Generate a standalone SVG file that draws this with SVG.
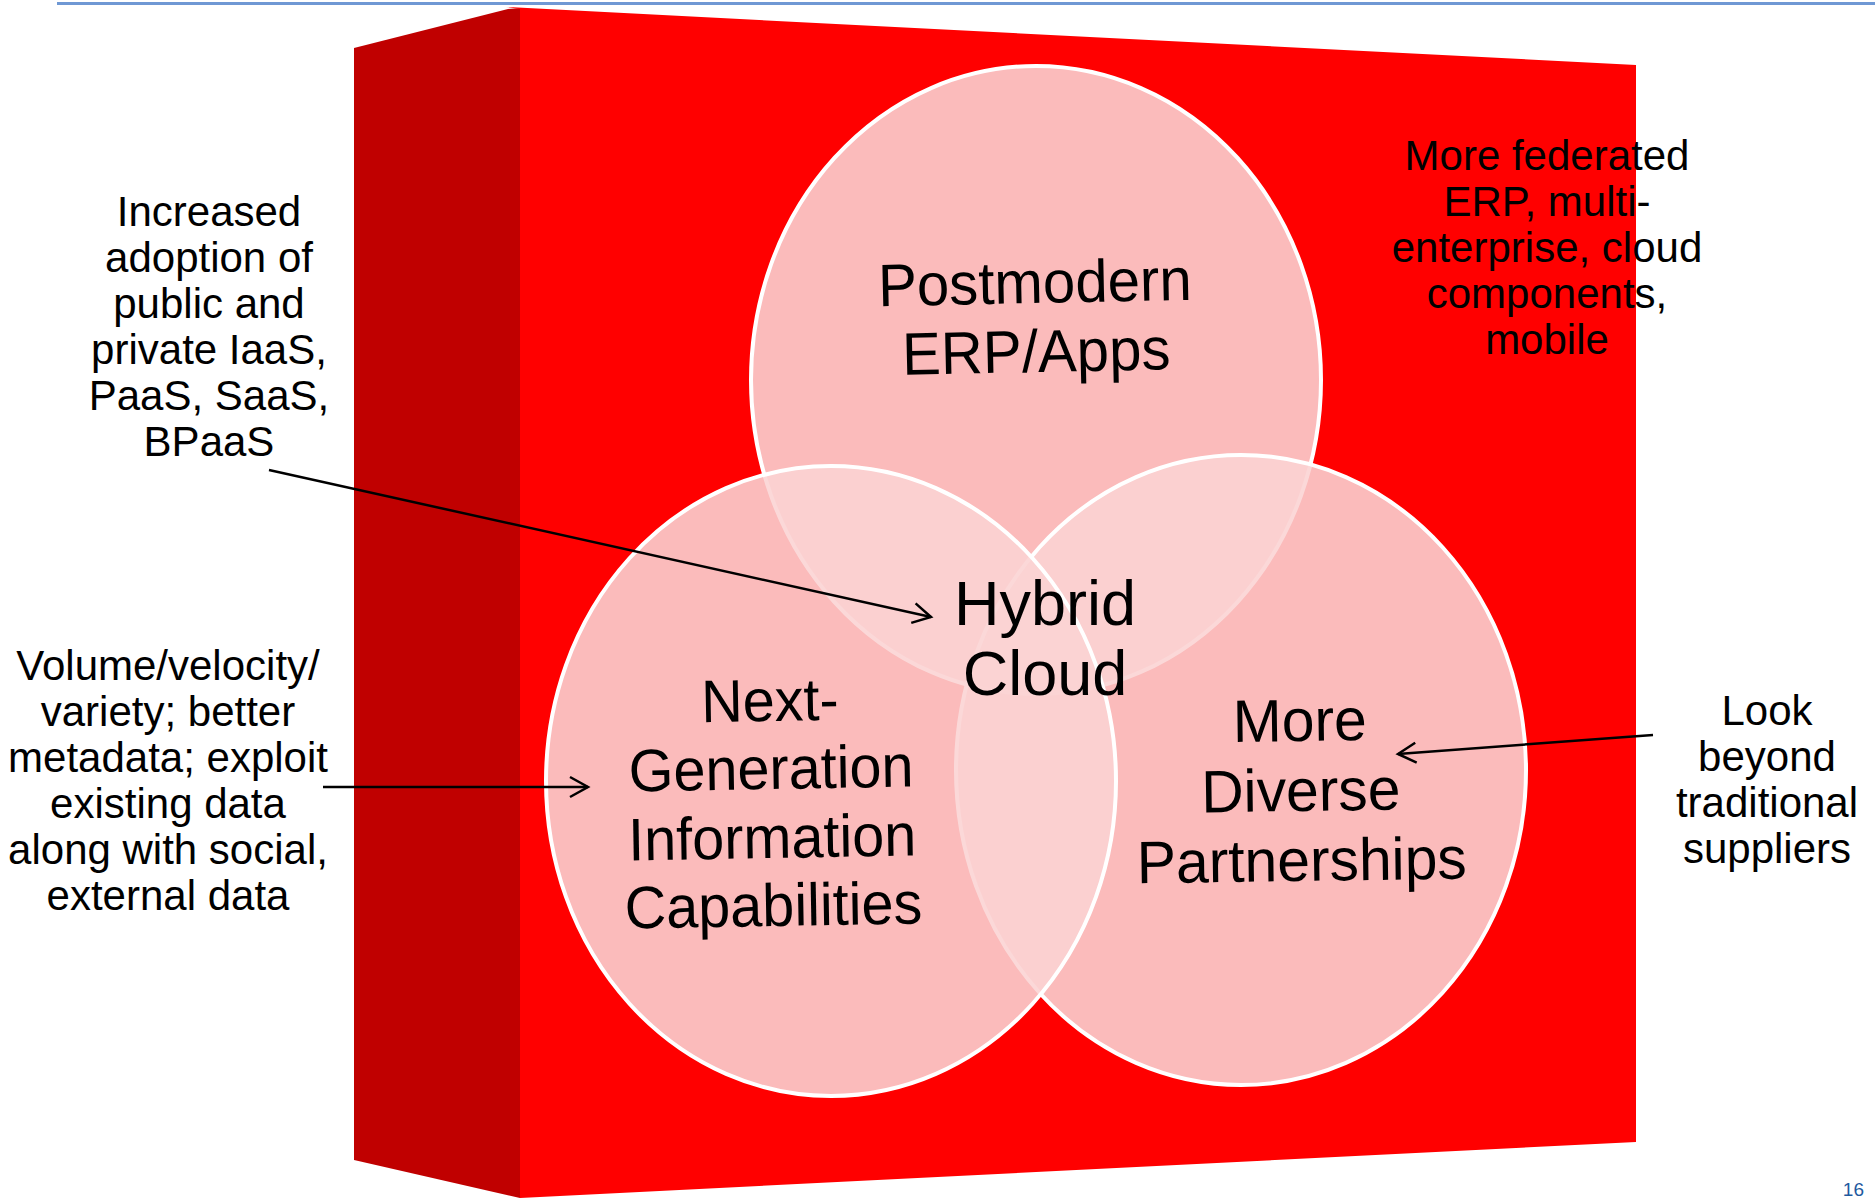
<svg xmlns="http://www.w3.org/2000/svg" width="1875" height="1198" viewBox="0 0 1875 1198">
  <defs>
    <style>
      .lbl { font-family: "Liberation Sans", Arial, sans-serif; font-size: 42px; fill: #000; text-anchor: middle; }
      .big { font-family: "Liberation Sans", Arial, sans-serif; font-size: 60px; fill: #000; text-anchor: middle; }
      .hyb { font-family: "Liberation Sans", Arial, sans-serif; font-size: 63px; fill: #000; text-anchor: middle; }
      .venn { fill: #FAD3D3; fill-opacity: 0.888; stroke: #FFFFFF; stroke-width: 4; }
      .conn { stroke: #000; stroke-width: 2.5; fill: none; marker-end: url(#arr); }
    </style>
    <marker id="arr" viewBox="-22 -13 26 26" refX="0" refY="0" markerWidth="26" markerHeight="26" markerUnits="userSpaceOnUse" orient="auto">
      <path d="M-18,-10 L0,0 L-18,10" fill="none" stroke="#000" stroke-width="2.5"/>
    </marker>
  </defs>

  <rect width="1875" height="1198" fill="#FFFFFF"/>
  <line x1="57" y1="3.5" x2="1875" y2="3.5" stroke="#6F98D4" stroke-width="3"/>

  <g id="box">
    <polygon points="354,48 508,9 520,8 520,1198 354,1160" fill="#C00000"/>
    <polygon points="506,7 1636,65 1636,1142 520,1198 520,9" fill="#FF0000"/>
  </g>

  <g id="node-postmodern">
    <ellipse class="venn" cx="1036" cy="380" rx="285" ry="314"/>
  </g>
  <g id="node-partnerships">
    <ellipse class="venn" cx="1241" cy="770" rx="285" ry="315"/>
  </g>
  <g id="node-nextgen">
    <ellipse class="venn" cx="831" cy="781" rx="285" ry="315"/>
  </g>

  <g id="node-postmodern-label" transform="translate(1036,338) rotate(-1.2) scale(0.97,1)">
    <text class="big" x="0" y="-35">Postmodern</text>
    <text class="big" x="0" y="34">ERP/Apps</text>
  </g>
  <g id="node-nextgen-label" transform="translate(772,824) rotate(-1) scale(0.96,1)">
    <text class="big" x="0" y="-103">Next-</text>
    <text class="big" x="0" y="-35">Generation</text>
    <text class="big" x="0" y="34">Information</text>
    <text class="big" x="0" y="102">Capabilities</text>
  </g>
  <g id="node-partnerships-label" transform="translate(1301,811) rotate(-0.8) scale(0.98,1)">
    <text class="big" x="0" y="-70">More</text>
    <text class="big" x="0" y="0">Diverse</text>
    <text class="big" x="0" y="70">Partnerships</text>
  </g>
  <g id="node-hybrid">
    <text class="hyb" x="1045" y="625">Hybrid</text>
    <text class="hyb" x="1045" y="695">Cloud</text>
  </g>

  <g id="note-cloud">
    <text class="lbl" x="209" y="226">Increased</text>
    <text class="lbl" x="209" y="272">adoption of</text>
    <text class="lbl" x="209" y="318">public and</text>
    <text class="lbl" x="209" y="364">private IaaS,</text>
    <text class="lbl" x="209" y="410">PaaS, SaaS,</text>
    <text class="lbl" x="209" y="456">BPaaS</text>
  </g>
  <g id="note-data">
    <text class="lbl" x="168" y="680">Volume/velocity/</text>
    <text class="lbl" x="168" y="726">variety; better</text>
    <text class="lbl" x="168" y="772">metadata; exploit</text>
    <text class="lbl" x="168" y="818">existing data</text>
    <text class="lbl" x="168" y="864">along with social,</text>
    <text class="lbl" x="168" y="910">external data</text>
  </g>
  <g id="note-suppliers">
    <text class="lbl" x="1767" y="725">Look</text>
    <text class="lbl" x="1767" y="771">beyond</text>
    <text class="lbl" x="1767" y="817">traditional</text>
    <text class="lbl" x="1767" y="863">suppliers</text>
  </g>
  <g id="note-erp">
    <text class="lbl" x="1547" y="170">More federated</text>
    <text class="lbl" x="1547" y="216">ERP, multi-</text>
    <text class="lbl" x="1547" y="262">enterprise, cloud</text>
    <text class="lbl" x="1547" y="308">components,</text>
    <text class="lbl" x="1547" y="354">mobile</text>
  </g>

  <g id="connectors">
    <line class="conn" x1="269" y1="470" x2="931" y2="617"/>
    <line class="conn" x1="323" y1="787" x2="588" y2="787"/>
    <line class="conn" x1="1653" y1="735" x2="1398" y2="754"/>
  </g>

  <text x="1864" y="1196" font-family="'Liberation Sans', Arial, sans-serif" font-size="19" fill="#1F5AA0" text-anchor="end">16</text>
</svg>
